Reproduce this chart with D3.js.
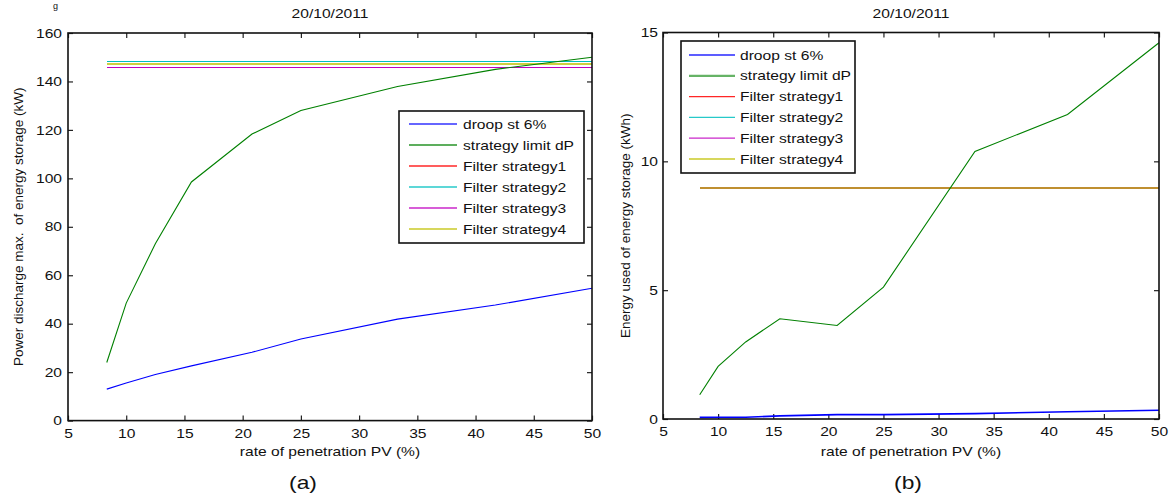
<!DOCTYPE html>
<html>
<head>
<meta charset="utf-8">
<script src="https://cdn.jsdelivr.net/npm/d3@7"></script>
<style>
  body { margin: 0; background: #fff; }
  text { font-family: "Liberation Sans", Arial, sans-serif; fill: #111; }
</style>
</head>
<body>
<svg id="chart" width="1173" height="496"></svg>
<script>
"use strict";

// ---------- data
const penetration = [8.33, 10, 12.5, 15.6, 20.8, 25, 33.3, 41.7, 50];
const filterSpan = [8.33, 50];

const seriesNames = ["droop st 6%", "strategy limit dP", "Filter strategy1", "Filter strategy2", "Filter strategy3", "Filter strategy4"];
const seriesColors = ["#0000ff", "#008000", "#ff0000", "#00bfbf", "#bf00bf", "#bfbf00"];

// (a) power discharge max (kW)
const powerDroop = [13.0, 15.5, 19.0, 22.6, 28.2, 33.7, 41.9, 47.7, 54.6];
const powerLimitDP = [24, 48.5, 73, 98.5, 118.3, 128, 137.9, 145, 150];
const powerFilter = [145.8, 148.2, 145.8, 147.2];

// (b) energy used (kWh)
const energyDroop = [0.065, 0.07, 0.07, 0.12, 0.17, 0.17, 0.21, 0.28, 0.34];
const energyLimitDP = [0.94, 2.04, 2.99, 3.89, 3.63, 5.12, 10.38, 11.82, 14.6];
const energyFilter = [8.95, 8.95, 8.95, 8.95];

const xTicks = [5, 10, 15, 20, 25, 30, 35, 40, 45, 50];
const powerTicks = [0, 20, 40, 60, 80, 100, 120, 140, 160];
const energyTicks = [0, 5, 10, 15];

const svg = d3.select("#chart");

// the scanned figure is a bit wider than tall, so text is stretched a little
function stretch(sel, k = 1.2) {
  sel.each(function () {
    const L = this.getComputedTextLength();
    d3.select(this).attr("textLength", L * k).attr("lengthAdjust", "spacingAndGlyphs");
  });
}

function drawPanel(p) {
  const x = d3.scaleLinear().domain([5, 50]).range([p.left, p.right]);
  const y = d3.scaleLinear().domain(p.yDomain).range([p.bottom, p.top]);
  const g = svg.append("g");

  // axes (ticks inside, mirrored on top/right)
  const bottom = g.append("g").attr("transform", `translate(0,${p.bottom})`)
    .call(d3.axisBottom(x).tickValues(xTicks).tickSize(-5).tickPadding(8).tickFormat(d3.format("d")));
  const left = g.append("g").attr("transform", `translate(${p.left},0)`)
    .call(d3.axisLeft(y).tickValues(p.yTicks).tickSize(-5).tickPadding(p.yPad).tickFormat(d3.format("d")));
  g.append("g").attr("transform", `translate(0,${p.top})`)
    .call(d3.axisTop(x).tickValues(xTicks).tickSize(-5).tickFormat(""));
  g.append("g").attr("transform", `translate(${p.right},0)`)
    .call(d3.axisRight(y).tickValues(p.yTicks).tickSize(-5).tickFormat(""));
  g.selectAll(".domain").remove();
  g.selectAll(".tick line").attr("stroke", "#222").attr("stroke-width", 1.2);
  g.selectAll(".tick text").attr("font-size", 13).attr("fill", "#111")
    .attr("font-family", "Liberation Sans, Arial, sans-serif");
  stretch(bottom.selectAll(".tick text"));
  stretch(left.selectAll(".tick text"));

  // lines
  const line = d3.line().x(d => x(d[0])).y(d => y(d[1]));
  p.filter.forEach((v, i) => {
    g.append("path")
      .datum(filterSpan.map(t => [t, v]))
      .attr("fill", "none")
      .attr("stroke", seriesColors[i + 2])
      .attr("stroke-width", p.filterWidth)
      .attr("stroke-opacity", i === 3 ? p.yellowOpacity : 1)
      .attr("shape-rendering", "crispEdges")
      .attr("d", line);
  });
  g.append("path")
    .datum(penetration.map((t, i) => [t, p.limit[i]]))
    .attr("fill", "none").attr("stroke", seriesColors[1]).attr("stroke-width", 1.1)
    .attr("d", line);
  g.append("path")
    .datum(penetration.map((t, i) => [t, p.droop[i]]))
    .attr("fill", "none").attr("stroke", seriesColors[0]).attr("stroke-width", p.droopWidth)
    .attr("d", line);

  // box
  g.append("rect")
    .attr("x", p.left).attr("y", p.top)
    .attr("width", p.right - p.left).attr("height", p.bottom - p.top)
    .attr("fill", "none").attr("stroke", "#111").attr("stroke-width", 1.6);

  // title
  stretch(g.append("text")
    .attr("x", (p.left + p.right) / 2).attr("y", 18)
    .attr("text-anchor", "middle").attr("font-size", 13)
    .text("20/10/2011"));

  // x label
  stretch(g.append("text")
    .attr("x", (p.left + p.right) / 2).attr("y", 456)
    .attr("text-anchor", "middle").attr("font-size", 13)
    .text("rate of penetration PV (%)"));

  // y label
  g.append("text")
    .attr("transform", `translate(${p.yLabelX},${(p.top + p.bottom) / 2}) rotate(-90)`)
    .attr("text-anchor", "middle").attr("font-size", 13.5)
    .style("white-space", "pre")
    .text(p.yLabel);

  // panel tag
  stretch(g.append("text")
    .attr("x", p.tagX).attr("y", 489)
    .attr("text-anchor", "middle").attr("font-size", 19)
    .attr("font-family", "Liberation Serif, Times New Roman, serif")
    .text(p.tag));

  // legend
  const L = p.legend;
  const lg = g.append("g");
  lg.append("rect")
    .attr("x", L.x0).attr("y", L.y0)
    .attr("width", L.x1 - L.x0).attr("height", L.y1 - L.y0)
    .attr("fill", "#fff").attr("stroke", "#111").attr("stroke-width", 1.6);
  seriesNames.forEach((name, i) => {
    const yy = L.rowY + i * L.rowH;
    lg.append("line")
      .attr("x1", L.sx0).attr("x2", L.sx1).attr("y1", yy).attr("y2", yy)
      .attr("stroke", seriesColors[i])
      .attr("stroke-width", i === L.thick ? 2.2 : 1.3)
      .attr("stroke-opacity", i === L.thick ? 0.6 : 0.85);
    stretch(lg.append("text")
      .attr("x", L.tx).attr("y", yy + 4.6)
      .attr("font-size", 13)
      .text(name));
  });
}

drawPanel({
  left: 68, right: 592, top: 33, bottom: 420.6,
  yDomain: [0, 160], yTicks: powerTicks, yPad: 6,
  droop: powerDroop, limit: powerLimitDP, filter: powerFilter,
  filterWidth: 1.4, droopWidth: 1.1, yellowOpacity: 0.75,
  yLabel: "Power discharge max.  of energy storage (kW)", yLabelX: 23,
  tag: "(a)", tagX: 303,
  legend: { x0: 399, x1: 584, y0: 111, y1: 243, rowY: 124, rowH: 21, sx0: 409, sx1: 457, tx: 463, thick: 0 }
});

drawPanel({
  left: 663, right: 1159, top: 32.5, bottom: 419,
  yDomain: [0, 15], yTicks: energyTicks, yPad: 5,
  droop: energyDroop, limit: energyLimitDP, filter: energyFilter,
  filterWidth: 2, droopWidth: 1.6, yellowOpacity: 0.75,
  yLabel: "Energy used of energy storage (kWh)", yLabelX: 630,
  tag: "(b)", tagX: 908,
  legend: { x0: 681, x1: 855, y0: 41, y1: 173, rowY: 55, rowH: 20.8, sx0: 689, sx1: 735, tx: 740, thick: 1 }
});

// leftover glyph of the page caption above the figure
svg.append("text")
  .attr("x", 53).attr("y", 9)
  .attr("font-size", 9)
  .attr("font-family", "Liberation Serif, Times New Roman, serif")
  .text("g");
</script>
</body>
</html>
